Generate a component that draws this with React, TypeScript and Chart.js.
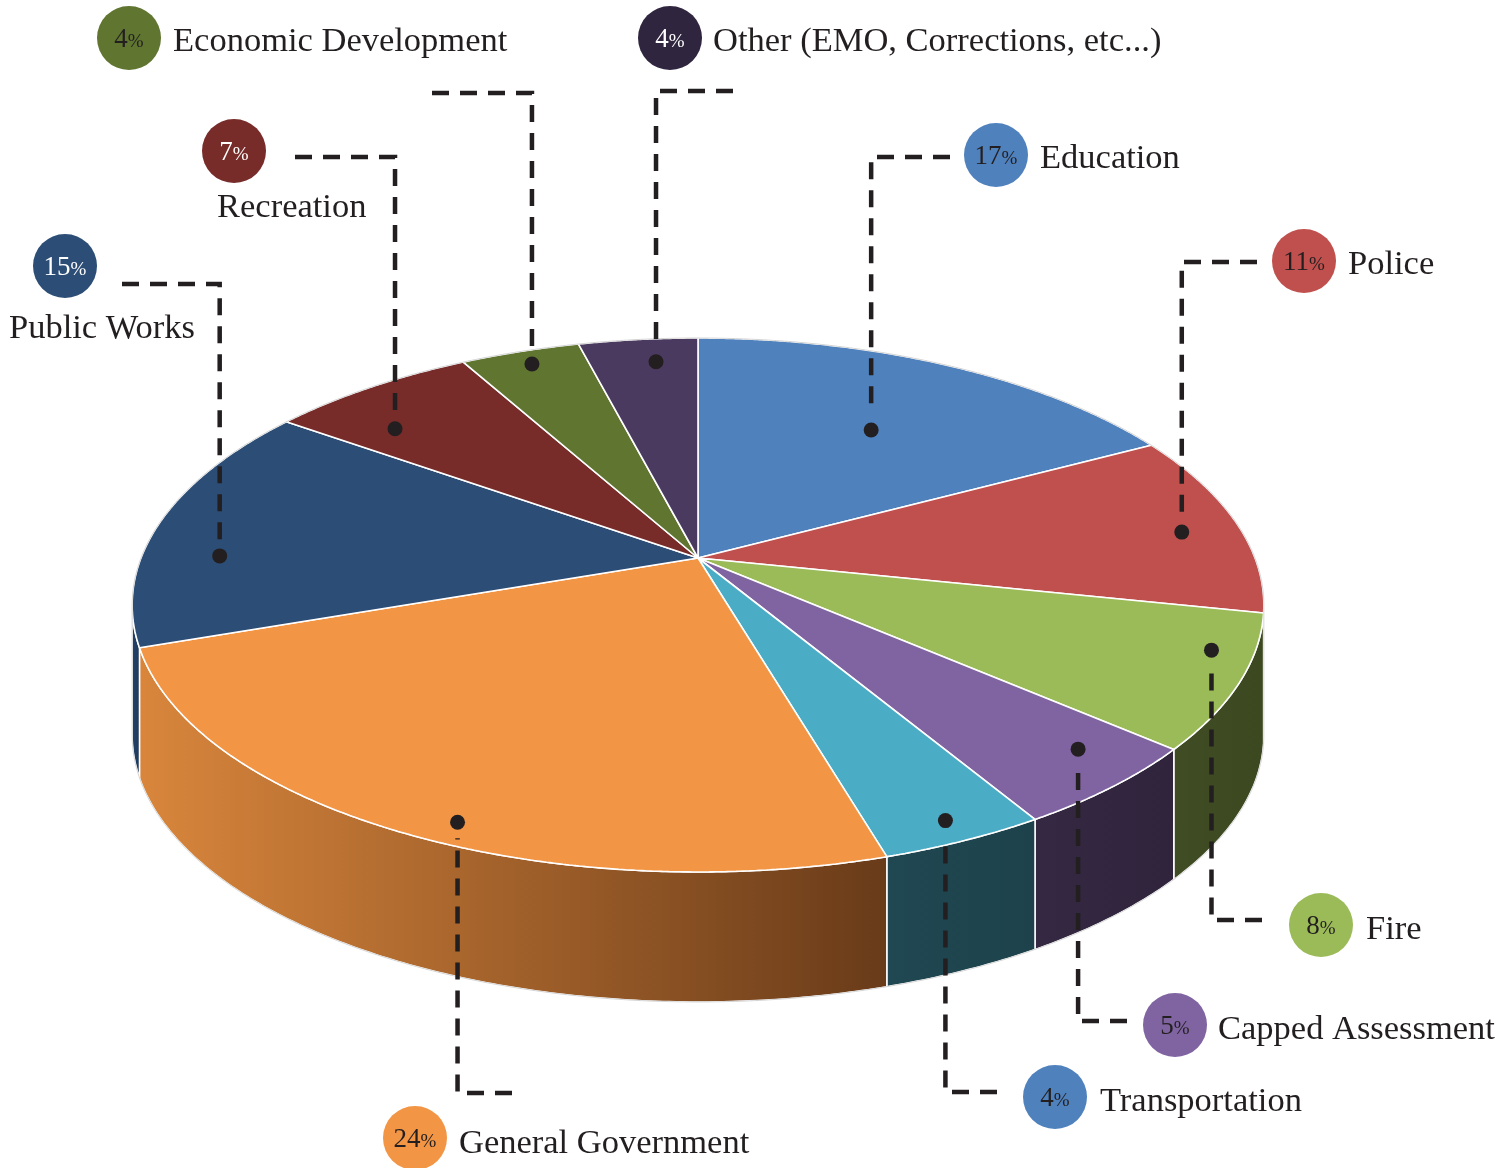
import React, { useEffect, useRef } from 'react';
import { Chart, registerables } from 'chart.js';

Chart.register(...registerables);

// ---------- data ----------
const categories = [
  'Education',
  'Police',
  'Fire',
  'Capped Assessment',
  'Transportation',
  'General Government',
  'Public Works',
  'Recreation',
  'Economic Development',
  'Other (EMO, Corrections, etc...)',
];
const values = [17, 11, 8, 5, 4, 24, 15, 7, 4, 4];

// ---------- styles ----------
const sliceColors = ['#4f81bd', '#c0504d', '#9bbb59', '#8064a2', '#4bacc6', '#f29545', '#2c4d75', '#772c2a', '#5f7530', '#4b3a60'];
const wallLeft = ['#2b4a70', '#6e2b29', '#404c23', '#352842', '#204852', '#d9863c', '#22406a', '#4a1b1a', '#38461c', '#2d2440'];
const wallRight = ['#2b4a70', '#6e2b29', '#3c481f', '#30243d', '#1d424b', '#693b19', '#1f3a5c', '#4a1b1a', '#38461c', '#2d2440'];
const badgeColors = ['#4f81bd', '#c0504d', '#9bbb59', '#8064a2', '#4f81bd', '#f29545', '#2c4d75', '#772c2a', '#5f7530', '#30253f'];
const badgeText = ['#231f20', '#231f20', '#231f20', '#231f20', '#231f20', '#231f20', '#ffffff', '#ffffff', '#231f20', '#ffffff'];

// perspective view of the pie: apex (projected centre), half-axes, perspective factor, wall depth
const VIEW = { xc: 698, yc: 558, a: 557, b: 258.7, k: 0.176, depth: 130 };

// callout layout: badge centre, label text position, leader corner, anchor (a = position across slice, f = radius fraction)
const callouts = [
  { bx: 996, by: 155, tx: 1040, ty: 168, cornerY: 157, endX: 950, a: 0.52, f: 0.64 },
  { bx: 1304, by: 261, tx: 1348, ty: 274, cornerY: 262, endX: 1257, a: 0.54, f: 0.89 },
  { bx: 1321, by: 925, tx: 1366, ty: 939, cornerY: 920, endX: 1262, a: 0.32, f: 0.93 },
  { bx: 1175, by: 1025, tx: 1218, ty: 1039, cornerY: 1021, endX: 1127, a: 0.35, f: 0.89 },
  { bx: 1055, by: 1097, tx: 1100, ty: 1111, cornerY: 1092, endX: 997, a: 0.5, f: 0.94 },
  { bx: 415, by: 1138, tx: 459, ty: 1153, cornerY: 1093, endX: 512, a: 0.45, f: 0.94 },
  { bx: 65, by: 266, tx: 9, ty: 338, cornerY: 284, endX: 122, a: 0.36, f: 0.86 },
  { bx: 234, by: 151, tx: 217, ty: 217, cornerY: 157, endX: 295, a: 0.28, f: 0.81 },
  { bx: 129, by: 38, tx: 173, ty: 51, cornerY: 93, endX: 432, a: 0.51, f: 0.93 },
  { bx: 670, by: 38, tx: 713, ty: 51, cornerY: 91, endX: 733, a: 0.61, f: 0.88 },
];

const SERIF = '"Liberation Serif", "DejaVu Serif", serif';
const INK = '#231f20';
const TAU = Math.PI * 2;

// unit-disk coords (u right, v toward viewer) -> screen
function project(u: number, v: number): [number, number] {
  const w = 1 - VIEW.k * v;
  return [VIEW.xc + (VIEW.a * u) / w, VIEW.yc + (VIEW.b * v) / w];
}

const pie3d = {
  id: 'pie3d',
  beforeDatasetsDraw(chart: any) {
    const ctx: any = chart.ctx;
    const arcs = chart.getDatasetMeta(0).data;
    if (!arcs.length) return;
    const a0 = arcs[0];
    const R = a0.outerRadius;
    const ox = a0.x;
    const oy = a0.y;
    const { depth } = VIEW;

    // ---- side walls (visible front part) ----
    const sil = Math.asin(VIEW.k);
    arcs.forEach((arc: any, i: number) => {
      const p = arc.getProps(['startAngle', 'endAngle'], true);
      const s = Math.max(p.startAngle, sil);
      const e = Math.min(p.endAngle, Math.PI - sil);
      if (e <= s) return;
      const n = Math.max(4, Math.ceil((e - s) / 0.01));
      const top: [number, number][] = [];
      for (let j = 0; j <= n; j++) {
        const t = s + ((e - s) * j) / n;
        top.push(project(Math.cos(t), Math.sin(t)));
      }
      const xR = top[0][0];
      const xL = top[top.length - 1][0];
      const g = ctx.createLinearGradient(xL, 0, Math.max(xR, xL + 1), 0);
      g.addColorStop(0, wallLeft[i]);
      g.addColorStop(1, wallRight[i]);
      ctx.beginPath();
      top.forEach((q, j) => (j === 0 ? ctx.moveTo(q[0], q[1]) : ctx.lineTo(q[0], q[1])));
      for (let j = top.length - 1; j >= 0; j--) ctx.lineTo(top[j][0], top[j][1] + depth);
      ctx.closePath();
      ctx.fillStyle = g;
      ctx.fill();
      ctx.strokeStyle = '#ffffff';
      ctx.lineWidth = 1.5;
      ctx.lineJoin = 'round';
      ctx.stroke();
    });

    // ---- route Chart.js' arc geometry through the perspective projection ----
    const P = CanvasRenderingContext2D.prototype;
    const toScreen = (x: number, y: number) => project((x - ox) / R, (y - oy) / R);
    ctx.moveTo = (x: number, y: number) => {
      const q = toScreen(x, y);
      P.moveTo.call(ctx, q[0], q[1]);
    };
    ctx.lineTo = (x: number, y: number) => {
      const q = toScreen(x, y);
      P.lineTo.call(ctx, q[0], q[1]);
    };
    ctx.arc = (x: number, y: number, r: number, s: number, e: number, ccw?: boolean) => {
      let sweep = e - s;
      if (!ccw) {
        if (sweep > TAU) sweep = TAU;
        else if (sweep < 0) sweep = (sweep % TAU) + TAU;
      } else {
        if (sweep < -TAU) sweep = -TAU;
        else if (sweep > 0) sweep = (sweep % TAU) - TAU;
      }
      const n = Math.max(2, Math.ceil(Math.abs(sweep) / 0.005));
      for (let j = 0; j <= n; j++) {
        const t = s + (sweep * j) / n;
        const q = toScreen(x + r * Math.cos(t), y + r * Math.sin(t));
        P.lineTo.call(ctx, q[0], q[1]);
      }
    };
  },
  afterDatasetsDraw(chart: any) {
    const ctx: any = chart.ctx;
    delete ctx.moveTo;
    delete ctx.lineTo;
    delete ctx.arc;
    const arcs = chart.getDatasetMeta(0).data;
    if (!arcs.length) return;

    ctx.save();
    // faint outer silhouette
    ctx.beginPath();
    const sil = Math.asin(VIEW.k);
    for (let j = 0; j <= 400; j++) {
      const t = Math.PI - sil + ((Math.PI + 2 * sil) * j) / 400;
      const q = project(Math.cos(t), Math.sin(t));
      j === 0 ? ctx.moveTo(q[0], q[1]) : ctx.lineTo(q[0], q[1]);
    }
    for (let j = 0; j <= 400; j++) {
      const t = sil + ((Math.PI - 2 * sil) * j) / 400;
      const q = project(Math.cos(t), Math.sin(t));
      ctx.lineTo(q[0], q[1] + VIEW.depth);
    }
    ctx.closePath();
    ctx.strokeStyle = '#d4d4d4';
    ctx.lineWidth = 1;
    ctx.stroke();

    arcs.forEach((arc: any, i: number) => {
      const c = callouts[i];
      const p = arc.getProps(['startAngle', 'endAngle'], true);
      const ang = p.startAngle + c.a * (p.endAngle - p.startAngle);
      const [dx, dy] = project(c.f * Math.cos(ang), c.f * Math.sin(ang));

      // leader
      const dir = c.cornerY < dy ? 1 : -1;
      ctx.beginPath();
      ctx.moveTo(c.endX, c.cornerY);
      ctx.lineTo(dx, c.cornerY);
      ctx.lineTo(dx, dy - dir * 16);
      ctx.setLineDash([17, 11]);
      ctx.lineWidth = 4.5;
      ctx.strokeStyle = INK;
      ctx.lineJoin = 'miter';
      ctx.lineCap = 'butt';
      ctx.stroke();
      ctx.setLineDash([]);

      // dot
      ctx.beginPath();
      ctx.arc(dx, dy, 7.5, 0, TAU);
      ctx.fillStyle = INK;
      ctx.fill();

      // badge
      ctx.beginPath();
      ctx.arc(c.bx, c.by, 32, 0, TAU);
      ctx.fillStyle = badgeColors[i];
      ctx.fill();

      const num = String(values[i]);
      ctx.font = `27px ${SERIF}`;
      const wNum = ctx.measureText(num).width;
      ctx.font = `19px ${SERIF}`;
      const wPct = ctx.measureText('%').width;
      const x0 = c.bx - (wNum + wPct) / 2;
      const base = c.by + 9;
      ctx.fillStyle = badgeText[i];
      ctx.textAlign = 'left';
      ctx.textBaseline = 'alphabetic';
      ctx.font = `27px ${SERIF}`;
      ctx.fillText(num, x0, base);
      ctx.font = `19px ${SERIF}`;
      ctx.fillText('%', x0 + wNum, base);

      // label
      ctx.font = `34.5px ${SERIF}`;
      ctx.fillStyle = INK;
      ctx.fillText(categories[i], c.tx, c.ty);
    });
    ctx.restore();
  },
};

export default function App() {
  const ref = useRef<HTMLCanvasElement>(null);
  useEffect(() => {
    if (!ref.current) return;
    const chart = new Chart(ref.current, {
      type: 'pie',
      data: {
        labels: categories,
        datasets: [
          {
            data: values,
            backgroundColor: sliceColors,
            borderColor: '#ffffff',
            borderWidth: 1.6,
            hoverOffset: 0,
            clip: false as any,
          } as any,
        ],
      },
      options: {
        responsive: false,
        animation: false,
        events: [],
        layout: { padding: 0 },
        plugins: {
          legend: { display: false },
          tooltip: { enabled: false },
        },
      },
      plugins: [pie3d],
    });
    return () => chart.destroy();
  }, []);
  return (
    <div style={{ position: 'absolute', left: 0, top: 0, width: 1511, height: 1168, background: '#ffffff' }}>
      <canvas ref={ref} width={1511} height={1168} style={{ display: 'block', width: 1511, height: 1168 }} />
    </div>
  );
}
